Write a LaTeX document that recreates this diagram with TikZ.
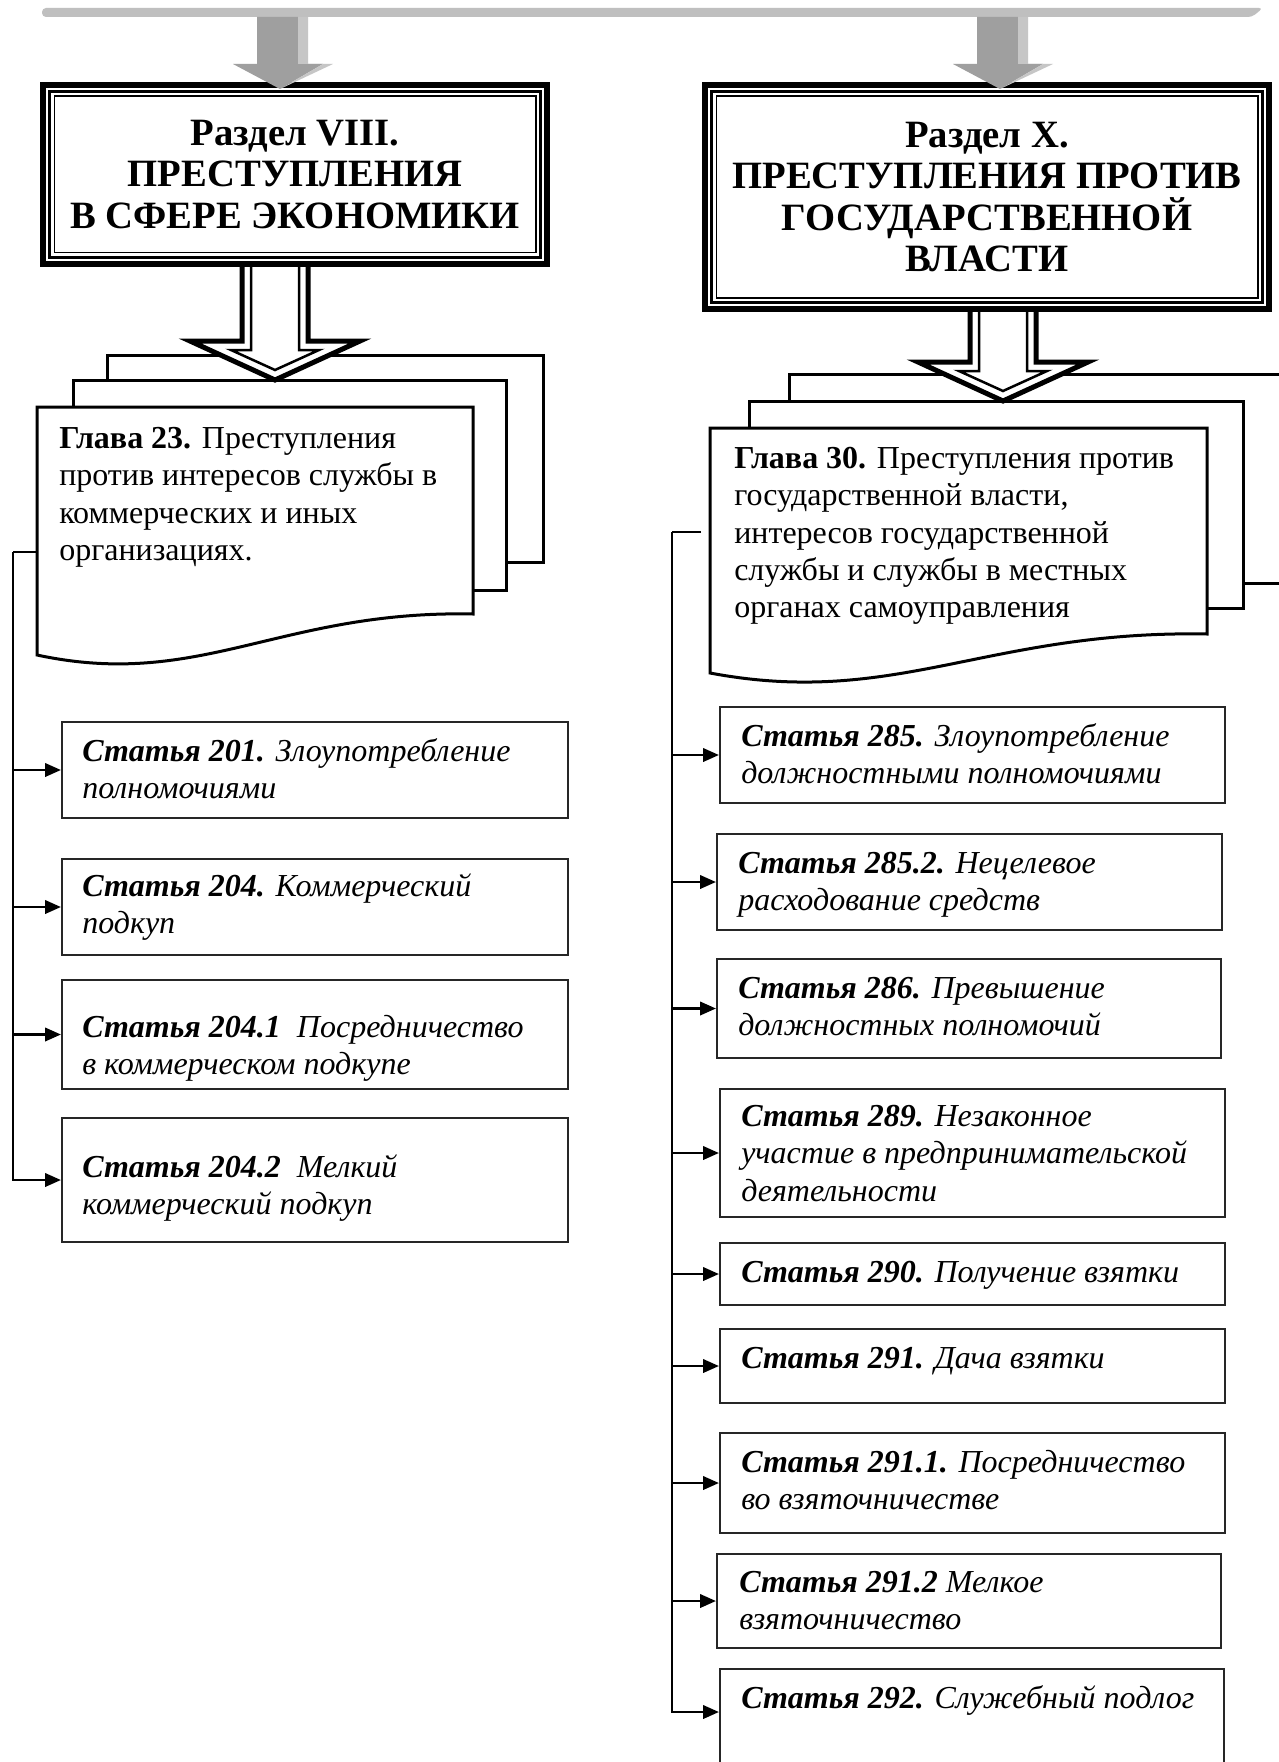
\documentclass[tikz,border=0pt]{standalone}
\usepackage{fontspec}
\setmainfont{Liberation Serif}
\usetikzlibrary{arrows.meta}
\newdimen\px \px=0.75pt
\tikzset{
  conn/.style={line width=2.8\px, draw=black},
  arr/.style={conn, -{Triangle[length=12pt,width=10pt]}},
  pagebox/.style={draw=black, fill=white, line width=3\px, line join=miter},
  artbox/.style={draw=black!85, line width=2\px, fill=white, anchor=north west, inner sep=0pt},
  arttext/.style={anchor=north west, inner sep=0pt, align=left, font=\fontsize{24}{28}\selectfont\itshape},
  chaptext/.style={anchor=north west, inner sep=0pt, align=left, font=\fontsize{24}{28}\selectfont},
  titletext/.style={align=center, inner sep=0pt, font=\fontsize{29}{31}\selectfont\bfseries},
  dblout/.style={fill=white, draw=black, line width=5\px, line join=miter},
  dblin/.style={draw=black, line width=2.5\px, line join=miter},
  grayfront/.style={fill=gray!75},
  grayside/.style={fill=gray!45},
}
\begin{document}
\begin{tikzpicture}[x=0.75pt,y=-0.75pt]
\useasboundingbox (0,0) rectangle (1278,1762);
\fill[white] (0,0) rectangle (1278,1762);

% top gray bar
\fill[gray!50, rounded corners=4\px] (42,8) -- (1263,8) -- (1252,17) -- (42,17) -- cycle;

% ---------- chapter stacks ----------
% left
\draw[pagebox] (107,355) rectangle (543,562);
\draw[pagebox] (73,380) rectangle (506,590);
\draw[pagebox] (37,407) -- (473,407) -- (473,614) .. controls (280,610) and (200,690) .. (37,655) -- cycle;
% right
\draw[pagebox] (789,374) rectangle (1300,583);
\draw[pagebox] (749,401) rectangle (1243,608);
\draw[pagebox] (710,428) -- (1207,428) -- (1207,634) .. controls (987,630) and (896,708) .. (710,673) -- cycle;

% ---------- double-line arrows ----------
\draw[dblout] (242,262) -- (242,341) -- (190,341) -- (275,380) -- (360,341) -- (308,341) -- (308,262);
\draw[dblin] (251,262) -- (251,350) -- (231,350) -- (275,370) -- (319,350) -- (299,350) -- (299,262);
\draw[dblout] (970,307) -- (970,362) -- (918,362) -- (1003,401) -- (1088,362) -- (1036,362) -- (1036,307);
\draw[dblin] (979,307) -- (979,371) -- (959,371) -- (1003,391) -- (1047,371) -- (1027,371) -- (1027,307);

% ---------- title boxes ----------
\fill[white] (40,82) rectangle (550,267);
\draw[line width=6\px] (43,85) rectangle (547,264);
\draw[line width=3\px] (49.5,91.5) rectangle (540.5,257.5);
\draw[line width=1.5\px] (54.25,96.25) rectangle (535.75,252.75);
\node[titletext] (title8) at (295,174.5) {Раздел VIII.\\ПРЕСТУПЛЕНИЯ\\В СФЕРЕ ЭКОНОМИКИ};

\fill[white] (702,82) rectangle (1272,312);
\draw[line width=6\px] (705,85) rectangle (1269,309);
\draw[line width=3\px] (711.5,91.5) rectangle (1262.5,302.5);
\draw[line width=1.5\px] (716.25,96.25) rectangle (1257.75,297.75);
\node[titletext] (title10) at (987,197) {Раздел X.\\ПРЕСТУПЛЕНИЯ ПРОТИВ\\ГОСУДАРСТВЕННОЙ\\ВЛАСТИ};

% ---------- gray 3D arrows ----------
\fill[grayfront] (257,17) -- (298,17) -- (298,64) -- (323,64) -- (280,89) -- (233,64) -- (257,64) -- cycle;
\fill[grayside] (298,17) -- (308,17) -- (308,64) -- (333,64) -- (280,89) -- (323,64) -- (298,64) -- cycle;
\fill[grayfront] (977,17) -- (1018,17) -- (1018,64) -- (1043,64) -- (1000,89) -- (953,64) -- (977,64) -- cycle;
\fill[grayside] (1018,17) -- (1028,17) -- (1028,64) -- (1053,64) -- (1000,89) -- (1043,64) -- (1018,64) -- cycle;

% ---------- chapter texts ----------
\node[chaptext] (ch23) at (59,422) {\strut\textbf{Глава 23.} Преступления\\против интересов службы в\\коммерческих и иных\\организациях.};
\node[chaptext] (ch30) at (734,442) {\strut\textbf{Глава 30.} Преступления против\\государственной власти,\\интересов государственной\\службы и службы в местных\\органах самоуправления};

% ---------- left articles ----------
\node[artbox, minimum width=506\px, minimum height=96\px] (a201) at (61,721) {};
\node[artbox, minimum width=506\px, minimum height=96\px] (a204) at (61,858) {};
\node[artbox, minimum width=506\px, minimum height=109\px] (a2041) at (61,979) {};
\node[artbox, minimum width=506\px, minimum height=124\px] (a2042) at (61,1117) {};
\node[arttext] (t201) at (82,735) {\strut\textbf{Статья 201.} Злоупотребление\\полномочиями};
\node[arttext] (t204) at (82,870) {\strut\textbf{Статья 204.} Коммерческий\\подкуп};
\node[arttext] (t2041) at (82,1011) {\strut\textbf{Статья 204.1}\ \ Посредничество\\в коммерческом подкупе};
\node[arttext] (t2042) at (82,1151) {\strut\textbf{Статья 204.2}\ \ Мелкий\\коммерческий подкуп};

% ---------- right articles ----------
\node[artbox, minimum width=505\px, minimum height=96\px] (a285) at (719,706) {};
\node[artbox, minimum width=505\px, minimum height=96\px] (a2852) at (716,833) {};
\node[artbox, minimum width=504\px, minimum height=99\px] (a286) at (716,958) {};
\node[artbox, minimum width=505\px, minimum height=128\px] (a289) at (719,1088) {};
\node[artbox, minimum width=505\px, minimum height=62\px] (a290) at (719,1242) {};
\node[artbox, minimum width=505\px, minimum height=74\px] (a291) at (719,1328) {};
\node[artbox, minimum width=505\px, minimum height=100\px] (a2911) at (719,1432) {};
\node[artbox, minimum width=504\px, minimum height=94\px] (a2912) at (716,1553) {};
\node[artbox, minimum width=504\px, minimum height=120\px] (a292) at (719,1668) {};
\node[arttext] (t285) at (741,720) {\strut\textbf{Статья 285.} Злоупотребление\\должностными полномочиями};
\node[arttext] (t2852) at (738,847) {\strut\textbf{Статья 285.2.} Нецелевое\\расходование средств};
\node[arttext] (t286) at (738,972) {\strut\textbf{Статья 286.} Превышение\\должностных полномочий};
\node[arttext] (t289) at (741,1100) {\strut\textbf{Статья 289.} Незаконное\\участие в предпринимательской\\деятельности};
\node[arttext] (t290) at (741,1256) {\strut\textbf{Статья 290.} Получение взятки};
\node[arttext] (t291) at (741,1342) {\strut\textbf{Статья 291.} Дача взятки};
\node[arttext] (t2911) at (741,1446) {\strut\textbf{Статья 291.1.} Посредничество\\во взяточничестве};
\node[arttext] (t2912) at (739,1566) {\strut\textbf{Статья 291.2} Мелкое\\взяточничество};
\node[arttext] (t292) at (741,1682) {\strut\textbf{Статья 292.} Служебный подлог};

% ---------- connectors ----------
\coordinate (lbus) at (13,552);
\coordinate (lpage) at (37,552);
\draw[conn] (lpage) -- (lbus);
\draw[arr] (lbus) |- (a2042.west);
\draw[arr] (lbus |- a201.west) -- (a201.west);
\draw[arr] (lbus |- a204.west) -- (a204.west);
\draw[arr] (lbus |- a2041.west) -- (a2041.west);

\coordinate (rbus) at (672,532);
\coordinate (rstub) at (701,532);
\coordinate (r292) at (672,1712);
\draw[conn] (rstub) -- (rbus);
\draw[arr] (rbus) -- (r292) -- (r292 -| a292.west);
\foreach \n in {a285,a2852,a286,a289,a290,a291,a2911,a2912}
  \draw[arr] (rbus |- \n.west) -- (\n.west);
\end{tikzpicture}
\end{document}
